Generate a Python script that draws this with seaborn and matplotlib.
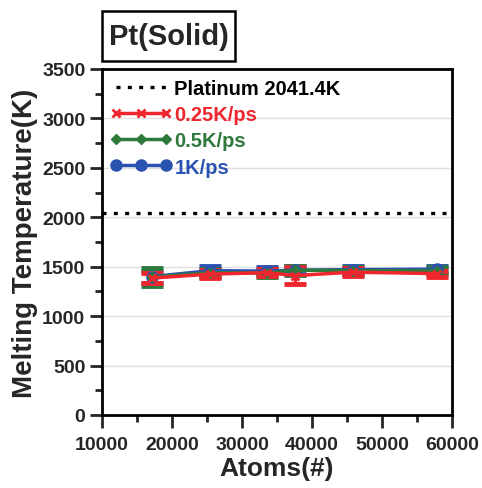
import matplotlib
matplotlib.use("Agg")
import matplotlib.pyplot as plt
import seaborn as sns
import pandas as pd
from matplotlib.ticker import MultipleLocator
from matplotlib.patches import Rectangle

atoms = [17160, 25470, 33640, 37500, 45800, 57850]
t_1 = [1400, 1460, 1455, 1465, 1470, 1475]
t_05 = [1395, 1440, 1435, 1465, 1460, 1460]
t_025 = [1385, 1425, 1440, 1410, 1445, 1430]
e_1 = [60, 50, 40, 40, 40, 35]
e_05 = [90, 40, 40, 45, 35, 35]
e_025 = [50, 40, 35, 90, 40, 30]
platinum = 2041.4
series_labels = ["0.25K/ps", "0.5K/ps", "1K/ps"]

sns.set_style("ticks")
plt.rcParams['font.family'] = ['Liberation Sans', 'DejaVu Sans']
plt.rcParams['font.weight'] = 'bold'

fig = plt.figure(figsize=(4.82, 4.89), dpi=100)
ax = fig.add_axes([0.2116, 0.1493, 0.7262, 0.7076])

colors = {"1K/ps": "#2a52b0", "0.5K/ps": "#2e7a3c", "0.25K/ps": "#f0262e"}
markers = {"1K/ps": "o", "0.5K/ps": "D", "0.25K/ps": "x"}
msizes = {"1K/ps": 8, "0.5K/ps": 5.5, "0.25K/ps": 6}

ax.plot([10000, 60000], [platinum, platinum], ls=(0, (1.2, 2.2)), color='black', lw=2.4,
        label="Platinum 2041.4K", zorder=2)

data = [("1K/ps", t_1, e_1), ("0.5K/ps", t_05, e_05), ("0.25K/ps", t_025, e_025)]
for name, ys, es in data:
    df = pd.DataFrame({"x": atoms, "y": ys})
    c = colors[name]
    sns.lineplot(data=df, x="x", y="y", ax=ax, color=c, lw=2.5, marker=markers[name],
                 markersize=msizes[name], markeredgewidth=2 if name == "0.25K/ps" else 1,
                 markeredgecolor=c, label=name, zorder=4, legend=False)
    ax.errorbar(atoms, ys, yerr=es, fmt='none', ecolor=c, elinewidth=2.5, capsize=8,
                capthick=3.5, zorder=3)

ax.set_xlim(10000, 60000)
ax.set_ylim(0, 3500)
ax.xaxis.set_major_locator(MultipleLocator(10000))
ax.xaxis.set_minor_locator(MultipleLocator(5000))
ax.yaxis.set_major_locator(MultipleLocator(500))
ax.yaxis.set_minor_locator(MultipleLocator(250))
ax.yaxis.grid(True, which='major', color='#e0e0e0', lw=1)
ax.set_axisbelow(True)
for s in ax.spines.values():
    s.set_linewidth(2)
    s.set_color('black')
ax.tick_params(which='major', length=9, width=2, labelsize=14, direction='out')
ax.tick_params(which='minor', length=5, width=2, direction='out')
ax.tick_params(axis='x', which='major', pad=6)
ax.tick_params(axis='y', which='major', pad=3)
for lab in ax.get_xticklabels() + ax.get_yticklabels():
    lab.set_fontweight('bold')
ax.set_xlabel("Atoms(#)", fontsize=19, fontweight='bold', labelpad=2)
ax.set_ylabel("Melting Temperature(K)", fontsize=20, fontweight='bold', labelpad=3)

h, l = ax.get_legend_handles_labels()
order = ["Platinum 2041.4K", "0.25K/ps", "0.5K/ps", "1K/ps"]
hl = dict(zip(l, h))
leg = ax.legend([hl[k] for k in order], order, loc='upper left', frameon=False,
                numpoints=3, handlelength=3.1, handletextpad=0.1, labelspacing=0.36,
                prop={'weight': 'bold', 'size': 14.5}, borderaxespad=0.0,
                bbox_to_anchor=(0.0, 0.995))
for txt, k in zip(leg.get_texts(), order):
    txt.set_color('black' if k.startswith("Platinum") else colors[k])

fig.patches.append(Rectangle((0.2116, 0.8732), 0.2759, 0.1022, transform=fig.transFigure,
                             fc='white', ec='black', lw=1.8))
fig.text(0.3496, 0.9243, "Pt(Solid)", fontsize=21, fontweight='bold', ha='center', va='center')

fig.savefig("out.png", dpi=100)
